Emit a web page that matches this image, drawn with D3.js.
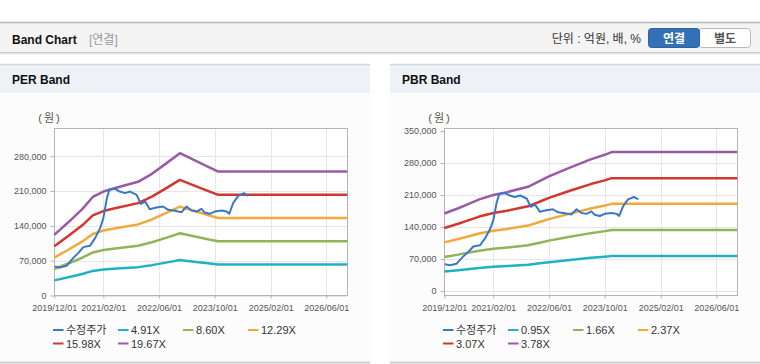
<!DOCTYPE html>
<html>
<head>
<meta charset="utf-8">
<script src="https://cdn.jsdelivr.net/npm/d3@7"></script>
<style>
  body { margin: 0; background: #fff; }
  svg text { font-family: "Liberation Sans", Arial, "Noto Sans CJK KR", sans-serif; }
</style>
</head>
<body>
<svg id="page" width="760" height="364"></svg>
<script>
// adjusted share price (수정주가)
const priceDates = ["2019-12-07","2020-01-19","2020-03-17","2020-05-13","2020-06-27","2020-08-10","2020-10-07",
  "2020-11-21","2021-01-04","2021-02-01","2021-03-01","2021-03-24","2021-05-13","2021-06-25","2021-08-09",
  "2021-09-22","2021-11-19","2021-12-24","2022-02-01","2022-03-13","2022-05-10","2022-07-06","2022-08-21",
  "2022-10-18","2022-12-16","2023-01-28","2023-03-13","2023-04-25","2023-06-07","2023-07-06","2023-08-19",
  "2023-10-01","2023-12-01","2024-01-13","2024-02-04","2024-03-10","2024-04-22","2024-06-12","2024-07-19"];
const priceValues = [58200,56200,59700,75100,85200,97200,99800,115300,135400,155400,192200,212300,214300,
  208900,205700,208900,202300,184200,188800,173500,176800,178800,172100,170100,167500,178800,170700,
  168700,174200,166700,164100,168700,170700,168700,164100,185600,200300,205700,200300];

// PER band
const perDates = ["2019-12-01","2020-04-01","2020-08-01","2020-11-01","2021-02-01","2021-06-01","2021-12-01",
  "2022-04-01","2022-08-01","2022-12-01","2023-04-01","2023-08-01","2023-11-01","2026-12-01"];
const perLabels = ["4.91X","8.60X","12.29X","15.98X","19.67X"];
const per491  = [30400,36700,43300,49400,52100,54200,57000,61000,66100,71400,68000,64700,62200,62200];
const per860  = [53300,64300,75900,86600,91300,94900,99900,106900,115900,125000,119100,113200,108900,108900];
const per1229 = [76200,91900,108400,123700,130500,135600,142800,152800,165600,178700,170300,161800,155600,155600];
const per1598 = [99000,119500,141000,160900,169700,176300,185600,198600,215300,232300,221400,210400,202300,202300];
const per1967 = [121900,147100,173500,198000,208900,217000,228500,244500,265000,286000,272500,259000,249000,249000];

// PBR band
const pbrDates = ["2019-12-01","2020-04-01","2020-06-01","2020-10-01","2021-02-01","2021-06-01","2021-12-01",
  "2022-04-01","2022-06-01","2022-12-01","2023-06-01","2023-10-01","2023-12-01","2026-12-01"];
const pbrLabels = ["0.95X","1.66X","2.37X","3.07X","3.78X"];
const pbr095 = [42600,45500,47100,50400,52800,54400,57300,61100,63000,67900,72400,74900,76400,76400];
const pbr166 = [74400,79500,82300,88000,92200,95000,100100,106700,110100,118600,126500,130900,133500,133500];
const pbr237 = [106300,113500,117600,125700,131700,135600,143000,152400,157200,169300,180600,186800,190600,190600];
const pbr307 = [137700,147000,152300,162800,170600,175700,185200,197400,203600,219300,233900,242000,246900,246900];
const pbr378 = [169500,181000,187500,200500,210000,216300,228000,243000,250700,270000,288000,298000,304000,304000];

const xTickLabels = ["2019/12/01","2021/02/01","2022/06/01","2023/10/01","2025/02/01","2026/06/01"];
const perYTicks = [0,70000,140000,210000,280000];
const pbrYTicks = [0,70000,140000,210000,280000,350000];

const priceColor = "#3b78c4";
const bandColors = ["#21b1c2","#8fb558","#f2a93b","#d1372f","#9a5aa6"];

const parseDay = d3.timeParse("%Y-%m-%d");
const parseTick = d3.timeParse("%Y/%m/%d");
const fmt = d3.format(",");

const svg = d3.select("#page");

// top header bar
svg.append("rect").attr("x", 0).attr("y", 22).attr("width", 760).attr("height", 31).attr("fill", "#f4f4f4");
svg.append("line").attr("x1", 0).attr("x2", 760).attr("y1", 22.5).attr("y2", 22.5)
  .attr("stroke", "#b8b8b8").attr("stroke-width", 1.5);
svg.append("line").attr("x1", 0).attr("x2", 760).attr("y1", 52.5).attr("y2", 52.5).attr("stroke", "#c9c9c9");
svg.append("line").attr("x1", 0).attr("x2", 760).attr("y1", 53.5).attr("y2", 53.5).attr("stroke", "#e8e8e8");
svg.append("line").attr("x1", 0).attr("x2", 760).attr("y1", 54.5).attr("y2", 54.5).attr("stroke", "#f4f4f4");

svg.append("text").attr("x", 12).attr("y", 44).attr("font-size", 12).attr("font-weight", "bold")
  .attr("fill", "#111").text("Band Chart");
svg.append("text").attr("x", 89).attr("y", 44).attr("font-size", 12).attr("fill", "#999").text("[연결]");

svg.append("text").attr("x", 641).attr("y", 42.5).attr("font-size", 12).attr("text-anchor", "end")
  .attr("fill", "#333").text("단위 : 억원, 배, %");

// 연결 / 별도 toggle
svg.append("rect").attr("x", 699).attr("y", 28.5).attr("width", 51.5).attr("height", 19).attr("rx", 3)
  .attr("fill", "#fff").attr("stroke", "#b9b9b9");
svg.append("rect").attr("x", 648.5).attr("y", 28.5).attr("width", 51).attr("height", 19).attr("rx", 3)
  .attr("fill", "#3271b6").attr("stroke", "#2b63a3");
svg.append("text").attr("x", 674).attr("y", 42.5).attr("font-size", 12).attr("font-weight", "bold")
  .attr("text-anchor", "middle").attr("fill", "#fff").text("연결");
svg.append("text").attr("x", 725).attr("y", 42.5).attr("font-size", 12).attr("font-weight", "bold")
  .attr("text-anchor", "middle").attr("fill", "#555").text("별도");

function drawPanel(x0, title, bandDates, bands, labels, yDomain, yRange, yTicks) {
  const g = svg.append("g").attr("transform", `translate(${x0},0)`);

  g.append("rect").attr("x", 0).attr("y", 64).attr("width", 370).attr("height", 299).attr("fill", "#fcfcfc");
  g.append("rect").attr("x", 0).attr("y", 64).attr("width", 370).attr("height", 29).attr("fill", "#eef2f7");
  g.append("line").attr("x1", 0).attr("x2", 370).attr("y1", 64.5).attr("y2", 64.5)
    .attr("stroke", "#d3d7dc").attr("stroke-width", 1.5);
  g.append("line").attr("x1", 0).attr("x2", 370).attr("y1", 362.5).attr("y2", 362.5)
    .attr("stroke", "#cfcfcf").attr("stroke-width", 2);
  g.append("text").attr("x", 12).attr("y", 84).attr("font-size", 12).attr("font-weight", "bold")
    .attr("fill", "#111").text(title);

  const x = d3.scaleTime()
    .domain([parseDay("2019-12-01"), parseDay("2026-12-01")])
    .range([54.3, 347.3]);
  const y = d3.scaleLinear().domain(yDomain).range(yRange);
  const top = 128.5, bottom = 295.5;

  g.append("rect").attr("x", 54.5).attr("y", top).attr("width", 293).attr("height", bottom - top)
    .attr("fill", "#fff");

  const xTicks = xTickLabels.map(parseTick);

  // grid
  g.append("g").selectAll("line").data(xTicks.slice(1)).join("line")
    .attr("x1", d => Math.round(x(d)) + 0.5).attr("x2", d => Math.round(x(d)) + 0.5)
    .attr("y1", top).attr("y2", bottom).attr("stroke", "#e6e6e6");
  g.append("g").selectAll("line").data(yTicks.filter(v => y(v) > top + 3)).join("line")
    .attr("x1", 54.5).attr("x2", 347.5)
    .attr("y1", d => Math.round(y(d)) + 0.5).attr("y2", d => Math.round(y(d)) + 0.5)
    .attr("stroke", "#e6e6e6");

  g.append("rect").attr("x", 54.5).attr("y", top).attr("width", 293).attr("height", bottom - top)
    .attr("fill", "none").attr("stroke", "#b4b4b4");

  // axes
  const xAxis = g.append("g").attr("transform", `translate(0,${bottom})`)
    .call(d3.axisBottom(x).tickValues(xTicks).tickSize(3).tickFormat(d3.timeFormat("%Y/%m/%d")));
  const yAxis = g.append("g").attr("transform", "translate(54.5,0)")
    .call(d3.axisLeft(y).tickValues(yTicks).tickSize(4).tickFormat(fmt));
  [xAxis, yAxis].forEach(a => {
    a.select(".domain").remove();
    a.selectAll(".tick line").attr("stroke", "#b4b4b4");
    a.selectAll(".tick text").attr("fill", "#555").attr("font-size", 9)
      .attr("font-family", "\"Liberation Sans\", Arial, sans-serif");
  });
  xAxis.selectAll(".tick text").attr("dy", "1.05em");
  yAxis.selectAll(".tick text").attr("x", -8);

  g.append("text").attr("x", 50).attr("y", 122).attr("font-size", 11).attr("text-anchor", "middle")
    .attr("letter-spacing", 2).attr("fill", "#555").text("(원)");

  // band lines
  const line = d3.line().x(d => x(d[0])).y(d => y(d[1]));
  const bd = bandDates.map(parseDay);
  bands.forEach((vals, i) => {
    g.append("path")
      .datum(vals.map((v, j) => [bd[j], v]))
      .attr("fill", "none").attr("stroke", bandColors[i]).attr("stroke-width", 2.5)
      .attr("stroke-linejoin", "round")
      .attr("d", line);
  });

  g.append("path")
    .datum(priceValues.map((v, j) => [parseDay(priceDates[j]), v]))
    .attr("fill", "none").attr("stroke", priceColor).attr("stroke-width", 2)
    .attr("stroke-linejoin", "round")
    .attr("d", line);

  // legend
  const items = [{ name: "수정주가", color: priceColor }]
    .concat(labels.map((l, i) => ({ name: l, color: bandColors[i] })));
  const lg = g.append("g").selectAll("g").data(items).join("g")
    .attr("transform", (d, i) => `translate(${53 + (i % 4) * 65},${i < 4 ? 330 : 343.5})`);
  lg.append("line").attr("x1", 0).attr("x2", 10.5).attr("y1", 0).attr("y2", 0)
    .attr("stroke", d => d.color).attr("stroke-width", 2);
  lg.append("text").attr("x", 13).attr("y", 4).attr("font-size", 11).attr("fill", "#333")
    .text(d => d.name);
}

drawPanel(0, "PER Band", perDates, [per491, per860, per1229, per1598, per1967], perLabels,
  [0, 336000], [295.5, 128.3], perYTicks);
drawPanel(390, "PBR Band", pbrDates, [pbr095, pbr166, pbr237, pbr307, pbr378], pbrLabels,
  [-10000, 356000], [295.5, 128.3], pbrYTicks);
</script>
</body>
</html>
